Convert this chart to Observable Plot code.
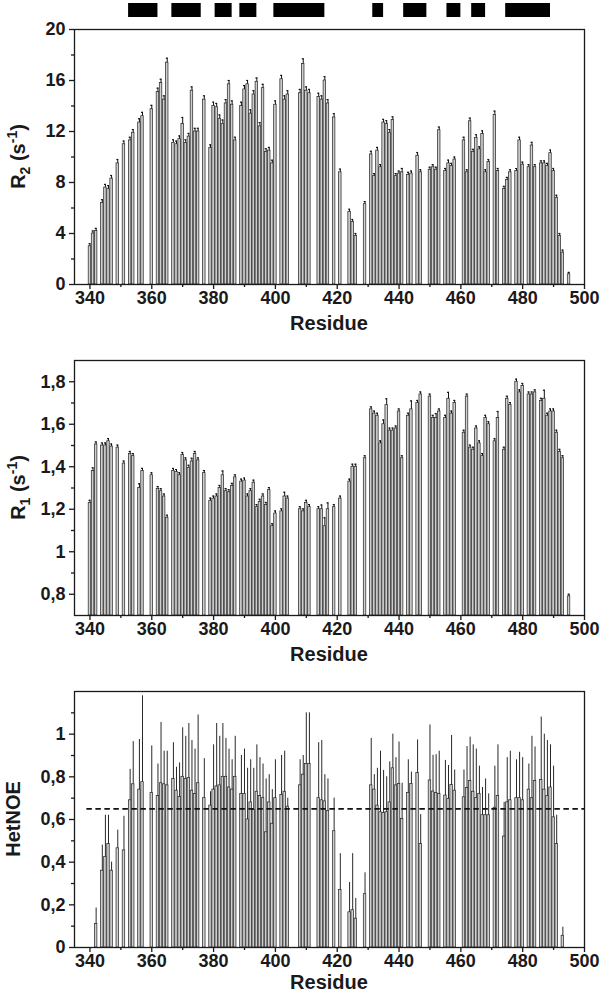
<!DOCTYPE html>
<html><head><meta charset="utf-8">
<script src="https://cdn.jsdelivr.net/npm/d3@7"></script>
<script src="https://cdn.jsdelivr.net/npm/@observablehq/plot@0.6"></script>
<style>
body{margin:0;background:#fff;width:600px;overflow:hidden}
svg{display:block}
</style>
</head><body><div id="chart"></div>
<script>
// ---------------- data ----------------
const residues = [
340,341,342,344,345,346,347,349,351,353,
354,356,357,360,362,363,364,365,367,368,
369,370,371,372,373,374,375,377,379,380,
381,382,383,384,385,386,387,389,390,391,
392,393,394,395,396,397,398,399,400,402,
403,404,408,409,410,411,414,415,416,417,
419,421,424,425,426,429,431,432,433,434,
435,436,437,438,439,440,441,443,444,446,
447,450,451,452,453,455,456,457,458,461,
462,463,464,465,466,467,468,469,471,472,
474,475,476,478,479,480,482,483,484,486,
487,488,489,490,491,492,493,495];

const r2Values = [
3.0,4.0,4.2,6.4,7.6,7.5,8.3,9.5,11.0,11.3,
11.9,12.7,13.2,13.75,15.1,15.8,14.5,17.4,11.1,11.0,
11.4,12.6,11.1,11.6,15.2,12.0,12.0,14.5,10.7,14.0,
13.9,13.0,12.6,14.2,15.7,14.1,11.3,14.0,15.3,15.7,
13.4,14.9,15.9,12.4,15.4,10.4,10.5,9.5,14.1,16.1,
14.5,14.9,15.0,17.3,15.2,15.0,14.7,14.5,16.0,14.2,
13.1,8.8,5.7,4.9,3.8,6.3,10.2,8.5,10.5,9.2,
12.7,12.6,11.9,12.9,8.5,8.7,8.8,8.6,8.7,10.1,
8.8,9.0,9.2,9.0,12.1,8.9,9.5,9.3,9.8,11.3,
8.8,12.8,10.4,11.5,10.6,11.8,8.8,9.6,13.3,8.9,
7.5,8.2,8.8,8.9,11.3,9.4,9.2,10.9,9.2,9.5,
9.5,9.3,10.3,8.9,6.8,3.8,2.5,0.8];

const r2Errors = [
0.2,0.2,0.2,0.25,0.25,0.25,0.25,0.3,0.25,0.25,
0.25,0.3,0.3,0.3,0.3,0.3,0.3,0.35,0.25,0.25,
0.25,0.5,0.25,0.25,0.3,0.25,0.25,0.3,0.25,0.3,
0.3,0.3,0.3,0.3,0.3,0.3,0.25,0.3,0.3,0.3,
0.3,0.3,0.3,0.3,0.3,0.25,0.25,0.25,0.3,0.3,
0.3,0.3,0.3,0.4,0.3,0.3,0.3,0.3,0.3,0.3,
0.3,0.25,0.2,0.2,0.2,0.2,0.25,0.2,0.25,0.2,
0.25,0.25,0.25,0.25,0.2,0.2,0.3,0.2,0.2,0.25,
0.2,0.2,0.2,0.2,0.25,0.2,0.25,0.2,0.2,0.25,
0.2,0.25,0.2,0.25,0.2,0.25,0.2,0.2,0.3,0.2,
0.2,0.2,0.2,0.2,0.25,0.2,0.2,0.25,0.2,0.2,
0.2,0.2,0.25,0.2,0.2,0.2,0.2,0.15];

const r1Values = [
1.23,1.38,1.505,1.50,1.50,1.52,1.495,1.49,1.415,1.46,
1.45,1.30,1.38,1.36,1.295,1.285,1.26,1.16,1.38,1.375,
1.36,1.455,1.43,1.395,1.425,1.46,1.43,1.37,1.24,1.25,
1.26,1.30,1.36,1.285,1.28,1.31,1.35,1.33,1.335,1.26,
1.285,1.325,1.21,1.235,1.26,1.22,1.29,1.12,1.18,1.19,
1.26,1.25,1.20,1.19,1.23,1.21,1.20,1.20,1.12,1.20,
1.21,1.25,1.33,1.40,1.40,1.44,1.67,1.65,1.64,1.51,
1.60,1.69,1.57,1.57,1.58,1.66,1.44,1.64,1.67,1.70,
1.74,1.73,1.63,1.63,1.66,1.63,1.72,1.65,1.70,1.56,
1.73,1.49,1.48,1.58,1.51,1.45,1.63,1.60,1.52,1.63,
1.48,1.72,1.69,1.80,1.75,1.78,1.74,1.74,1.75,1.71,
1.72,1.64,1.66,1.66,1.56,1.47,1.44,0.79];

const r1Errors = [
0.012,0.015,0.012,0.012,0.012,0.012,0.012,0.012,0.012,0.012,
0.012,0.02,0.012,0.012,0.012,0.012,0.012,0.012,0.012,0.012,
0.012,0.012,0.012,0.012,0.015,0.012,0.012,0.012,0.012,0.012,
0.012,0.012,0.02,0.012,0.012,0.012,0.012,0.012,0.012,0.012,
0.012,0.012,0.012,0.012,0.012,0.012,0.012,0.012,0.012,0.012,
0.02,0.012,0.012,0.012,0.012,0.012,0.012,0.02,0.04,0.03,
0.012,0.012,0.012,0.012,0.012,0.012,0.012,0.012,0.012,0.012,
0.02,0.03,0.012,0.012,0.012,0.012,0.012,0.012,0.04,0.012,
0.012,0.012,0.012,0.02,0.012,0.012,0.03,0.012,0.012,0.012,
0.012,0.012,0.012,0.012,0.012,0.012,0.012,0.012,0.012,0.03,
0.012,0.012,0.012,0.012,0.012,0.012,0.012,0.012,0.012,0.012,
0.04,0.012,0.012,0.012,0.012,0.012,0.012,0.01];

const noeResidues = [
342,344,345,346,347,349,351,353,
354,356,357,360,362,363,364,365,367,368,
369,370,371,372,373,374,375,377,379,380,
381,382,383,384,385,386,387,389,390,391,
392,393,394,395,396,397,398,399,400,402,
403,404,408,409,410,411,414,415,416,417,
419,421,424,425,426,429,431,432,433,434,
435,436,437,438,439,440,441,443,444,446,
447,450,451,452,453,455,456,457,458,461,
462,463,464,465,466,467,468,469,471,472,
474,475,476,478,479,480,482,483,484,486,
487,488,489,490,491,493];

const noeValues = [
0.11,0.36,0.425,0.485,0.36,0.465,0.455,0.69,
0.765,0.74,0.775,0.725,0.71,0.77,0.765,0.76,0.79,0.735,
0.705,0.80,0.79,0.795,0.735,0.72,0.77,0.70,0.665,0.74,
0.755,0.76,0.80,0.80,0.75,0.74,0.80,0.72,0.72,0.60,
0.68,0.645,0.73,0.71,0.70,0.54,0.68,0.58,0.70,0.715,
0.73,0.66,0.76,0.81,0.86,0.86,0.70,0.69,0.685,0.64,
0.545,0.27,0.165,0.175,0.135,0.25,0.76,0.74,0.665,0.634,
0.63,0.634,0.68,0.84,0.76,0.767,0.603,0.725,0.767,0.818,
0.485,0.783,0.731,0.724,0.72,0.712,0.697,0.762,0.735,0.704,
0.748,0.78,0.73,0.70,0.72,0.62,0.62,0.62,0.655,0.71,
0.52,0.68,0.69,0.70,0.70,0.69,0.74,0.70,0.78,0.785,
0.74,0.71,0.75,0.61,0.485,0.055];

const noeErrors = [
0.075,0.12,0.195,0.135,0.04,0.085,0.16,0.145,
0.20,0.235,0.405,0.22,0.15,0.285,0.155,0.16,0.17,0.11,
0.16,0.23,0.20,0.255,0.235,0.21,0.32,0.185,0.065,0.21,
0.295,0.23,0.25,0.18,0.18,0.14,0.19,0.18,0.21,0.24,
0.20,0.195,0.22,0.18,0.16,0.25,0.13,0.16,0.18,0.185,
0.19,0.04,0.12,0.09,0.24,0.24,0.26,0.28,0.125,0.15,
0.155,0.17,0.14,0.265,0.095,0.10,0.22,0.07,0.175,0.286,
0.20,0.166,0.19,0.16,0.13,0.196,0.167,0.155,0.055,0.155,
0.138,0.26,0.17,0.18,0.20,0.165,0.156,0.232,0.097,0.128,
0.194,0.206,0.22,0.23,0.13,0.13,0.17,0.10,0.195,0.24,
0.16,0.21,0.23,0.18,0.215,0.20,0.12,0.29,0.16,0.295,
0.26,0.26,0.20,0.24,0.135,0.04];

const noeThreshold = [{y: 0.65, from: 339, to: 500}];

const helixStart = [352.5,366.5,380.5,388.5,399.5,431.5,441.5,455.5,463.5,474.5];
const helixEnd   = [362,  376,  386,  394,  416,  435,  449,  460,  468,  489];

const xDomain = [335, 500];
const xMajor = [340,360,380,400,420,440,460,480,500];
const xMinor = [350,370,390,410,430,450,470,490];

const r2Major = [0,4,8,12,16,20], r2Minor = [2,6,10,14,18];
const r1Major = [0.8,1,1.2,1.4,1.6,1.8], r1Minor = [0.9,1.1,1.3,1.5,1.7];
const noeMajor = [0,0.2,0.4,0.6,0.8,1], noeMinor = [0.1,0.3,0.5,0.7,0.9,1.1];

// ---------------- drawing ----------------
const FONT = "'Liberation Sans', Arial, Helvetica, sans-serif";
const INK = "#1a1a1a";
const fmt = d => String(d).replace(".", ",");
const root = document.getElementById("chart");

function helixStrip() {
  const data = helixStart.map((s, i) => ({s, e: helixEnd[i]}));
  return Plot.plot({
    width: 600, height: 20, marginTop: 3, marginBottom: 3, marginLeft: 74, marginRight: 16,
    x: {domain: xDomain, axis: null},
    style: {background: "#fff"},
    marks: [Plot.rect(data, {x1: "s", x2: "e", fill: "#000"})]
  });
}

function panel({res, vals, errs, yDomain, yMajor, yMinor, height, marginTop, marginBottom, caps, errWidth, extra, label, labelX, titleDy}) {
  const data = res.map((r, i) => ({r, v: vals[i], e: errs[i]}));
  const y0 = yDomain[0];
  const svg = Plot.plot({
    width: 600, height, marginTop, marginBottom, marginLeft: 74, marginRight: 16,
    x: {domain: xDomain, axis: null},
    y: {domain: yDomain, axis: null},
    style: {fontFamily: FONT, background: "#fff", overflow: "visible"},
    marks: [
      Plot.rect(data, {x1: d => d.r - 0.4, x2: d => d.r + 0.4, y1: () => y0, y2: "v",
        fill: "#cfcfcf", stroke: "#2c2c2c", strokeWidth: 0.75}),
      Plot.ruleX(data, {x: "r", y1: "v", y2: d => d.v + d.e, stroke: "#111", strokeWidth: errWidth}),
      caps ? Plot.ruleY(data, {y: d => d.v + d.e, x1: d => d.r - 0.3, x2: d => d.r + 0.3, stroke: "#111", strokeWidth: 1.2}) : null,
      ...(extra || []),
      Plot.frame({stroke: INK, strokeWidth: 1.3}),
      Plot.axisX({ticks: xMajor, tickSize: 5, tickPadding: 2, tickFormat: d => String(d),
        fontSize: 18, fontWeight: "bold", fill: INK, stroke: INK, strokeWidth: 1.3, label: null}),
      Plot.axisX({ticks: xMinor, tickSize: 3, tickFormat: () => "", stroke: INK, strokeWidth: 1.3, label: null}),
      Plot.axisY({ticks: yMajor, tickSize: 5, tickPadding: 4, tickFormat: fmt,
        fontSize: 18, fontWeight: "bold", fill: INK, stroke: INK, strokeWidth: 1.3, label: null}),
      Plot.axisY({ticks: yMinor, tickSize: 3, tickFormat: () => "", stroke: INK, strokeWidth: 1.3, label: null})
    ]
  });
  const s = d3.select(svg);
  const frameBottom = height - marginBottom;
  s.append("text")
    .attr("x", 329).attr("y", frameBottom + titleDy)
    .attr("text-anchor", "middle").attr("font-family", FONT)
    .attr("font-size", 20).attr("font-weight", "bold").attr("fill", INK)
    .text("Residue");
  const cy = marginTop + (frameBottom - marginTop) / 2;
  const t = s.append("text")
    .attr("transform", `translate(${labelX},${cy}) rotate(-90)`)
    .attr("text-anchor", "middle").attr("font-family", FONT)
    .attr("font-size", 20).attr("font-weight", "bold").attr("fill", INK);
  label.forEach(p => {
    const sp = t.append("tspan").text(p.t);
    if (p.size) sp.attr("font-size", p.size);
    if (p.dy) sp.attr("dy", p.dy);
  });
  return svg;
}

root.appendChild(helixStrip());

root.appendChild(panel({
  res: residues, vals: r2Values, errs: r2Errors,
  yDomain: [0, 20], yMajor: r2Major, yMinor: r2Minor,
  height: 315, marginTop: 9, marginBottom: 51, caps: true, errWidth: 1,
  labelX: 25, titleDy: 46,
  label: [{t: "R"}, {t: "2", size: 14, dy: 5}, {t: " (s", size: 20, dy: -5}, {t: "-1", size: 14, dy: -8}, {t: ")", size: 20, dy: 8}]
}));

root.appendChild(panel({
  res: residues, vals: r1Values, errs: r1Errors,
  yDomain: [0.7, 1.9], yMajor: r1Major, yMinor: r1Minor,
  height: 330, marginTop: 25, marginBottom: 50, caps: true, errWidth: 1,
  labelX: 25, titleDy: 46,
  label: [{t: "R"}, {t: "1", size: 14, dy: 5}, {t: " (s", size: 20, dy: -5}, {t: "-1", size: 14, dy: -8}, {t: ")", size: 20, dy: 8}]
}));

root.appendChild(panel({
  res: noeResidues, vals: noeValues, errs: noeErrors,
  yDomain: [0, 1.2], yMajor: noeMajor, yMinor: noeMinor,
  height: 329, marginTop: 26, marginBottom: 47, caps: false, errWidth: 0.9,
  labelX: 19.5, titleDy: 42,
  label: [{t: "HetNOE"}],
  extra: [Plot.ruleY(noeThreshold, {y: "y", x1: "from", x2: "to", stroke: "#111", strokeWidth: 1.6, strokeDasharray: "5.5,3.5"})]
}));
</script>
</body></html>
